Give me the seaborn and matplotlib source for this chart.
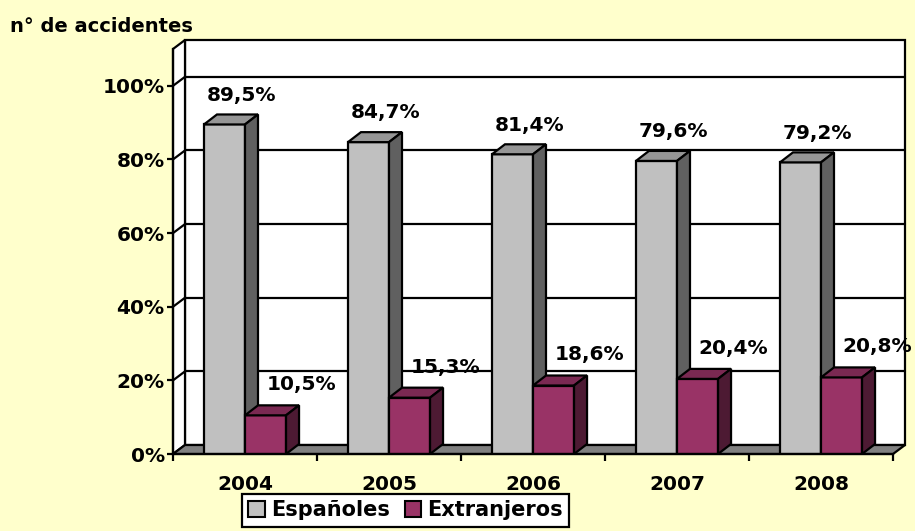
import pandas as pd
import matplotlib
matplotlib.use('Agg')
import matplotlib.pyplot as plt
from matplotlib.patches import Polygon, Rectangle, Patch
import seaborn as sns

years = ['2004', '2005', '2006', '2007', '2008']
espanoles = [89.5, 84.7, 81.4, 79.6, 79.2]
extranjeros = [10.5, 15.3, 18.6, 20.4, 20.8]
series = ['Españoles', 'Extranjeros']
yticks = [0, 20, 40, 60, 80, 100]

df = pd.DataFrame({
    'year': years * 2,
    'pct': espanoles + extranjeros,
    'group': [series[0]] * len(years) + [series[1]] * len(years),
})

sns.set_style('white')
plt.rcParams['font.family'] = ['DejaVu Sans']
plt.rcParams['font.weight'] = 'bold'
plt.rcParams['text.color'] = 'black'
plt.rcParams['xtick.color'] = 'black'
plt.rcParams['ytick.color'] = 'black'
plt.rcParams['xtick.labelcolor'] = 'black'
plt.rcParams['ytick.labelcolor'] = 'black'

bg = '#FFFFCC'
front = {'Españoles': '#C0C0C0', 'Extranjeros': '#993366'}
top = {'Españoles': '#969696', 'Extranjeros': '#7A2952'}
side = {'Españoles': '#606060', 'Extranjeros': '#4D1A33'}

fig = plt.figure(figsize=(9.15, 5.31), dpi=100, facecolor=bg)
ax = fig.add_axes([173 / 915, 77 / 531, 720 / 915, 405 / 531])
ax.set_facecolor('none')

ymax = 110
# depth of the 3d box (px -> data units)
px_x = 144.0
px_y = 405.0 / ymax
DX, DY = 12 / px_x, 9 / px_y
BDX, BDY = 13 / px_x, 10 / px_y
x0, x1 = -0.5, len(years) - 0.5
lw = 1.6

# walls and floor
ax.add_patch(Rectangle((x0 + DX, DY), x1 - x0, ymax, facecolor='white',
                       edgecolor='black', lw=lw, clip_on=False, zorder=0))
ax.add_patch(Polygon([(x0, 0), (x0, ymax), (x0 + DX, ymax + DY), (x0 + DX, DY)],
                     facecolor='white', edgecolor='black', lw=lw, clip_on=False, zorder=0))
for t in yticks[1:]:
    ax.plot([x0 + DX, x1 + DX], [t + DY, t + DY], color='black', lw=lw, clip_on=False, zorder=0.5)
    ax.plot([x0, x0 + DX], [t, t + DY], color='black', lw=lw, clip_on=False, zorder=0.5)
ax.add_patch(Polygon([(x0, 0), (x1, 0), (x1 + DX, DY), (x0 + DX, DY)],
                     facecolor='#808080', edgecolor='black', lw=lw, clip_on=False, zorder=1))

sns.barplot(data=df, x='year', y='pct', hue='group', palette=front, saturation=1,
            width=0.57, gap=0, edgecolor='black', linewidth=lw,
            legend=False, ax=ax, zorder=3)

label_off = {'Españoles': (12, 21), 'Extranjeros': (26, 22)}
for k, cont in enumerate(ax.containers):
    name = series[k]
    for bar in cont:
        bx0 = bar.get_x()
        bx1 = bx0 + bar.get_width()
        h = bar.get_height()
        bar.set_zorder(3 + k)
        ax.add_patch(Polygon([(bx0, h), (bx1, h), (bx1 + BDX, h + BDY), (bx0 + BDX, h + BDY)],
                             facecolor=top[name], edgecolor='black', lw=lw, zorder=3 + k))
        ax.add_patch(Polygon([(bx1, 0), (bx1, h), (bx1 + BDX, h + BDY), (bx1 + BDX, BDY)],
                             facecolor=side[name], edgecolor='black', lw=lw, zorder=3 + k))
        ax.annotate(f'{h:.1f}%'.replace('.', ','), xy=((bx0 + bx1) / 2, h),
                    xytext=label_off[name], textcoords='offset points',
                    ha='center', va='center', fontsize=14.5, fontweight='bold',
                    color='black', zorder=10, annotation_clip=False)

ax.set_xlim(x0, x1)
ax.set_ylim(0, ymax)
ax.set_yticks(yticks)
ax.set_yticklabels([f'{t}%' for t in yticks])
ax.set_xticks(range(len(years)))
ax.set_xticklabels(years)
ax.set_xticks([x0 + i for i in range(len(years) + 1)], minor=True)
ax.tick_params(axis='x', which='major', length=0, pad=15, labelsize=14.5)
ax.tick_params(axis='x', which='minor', length=5, width=lw, color='black', direction='out', bottom=True)
ax.tick_params(axis='y', length=4, width=lw, color='black', direction='out', left=True, pad=2, labelsize=14.5)
ax.set_xlabel('')
ax.set_ylabel('')
for s in ['top', 'right']:
    ax.spines[s].set_visible(False)
for s in ['left', 'bottom']:
    ax.spines[s].set_color('black')
    ax.spines[s].set_linewidth(lw)
    ax.spines[s].set_zorder(6)

fig.text(10 / 915, 1 - 26 / 531, 'n° de accidentes', ha='left', va='center',
         fontsize=14, fontweight='bold', color='black')

handles = [Patch(facecolor=front[n], edgecolor='black', lw=1.5, label=n) for n in series]
leg = fig.legend(handles=handles, loc='upper left', bbox_to_anchor=(242 / 915, 1 - 494 / 531),
                 ncol=2, frameon=True, fancybox=False, framealpha=1, edgecolor='black',
                 fontsize=15, handlelength=0.8, handleheight=0.8, handletextpad=0.3,
                 columnspacing=0.7, borderpad=0.3, borderaxespad=0)
leg.get_frame().set_linewidth(lw)
for txt in leg.get_texts():
    txt.set_color('black')

fig.savefig('out.png', dpi=100, facecolor=bg)
